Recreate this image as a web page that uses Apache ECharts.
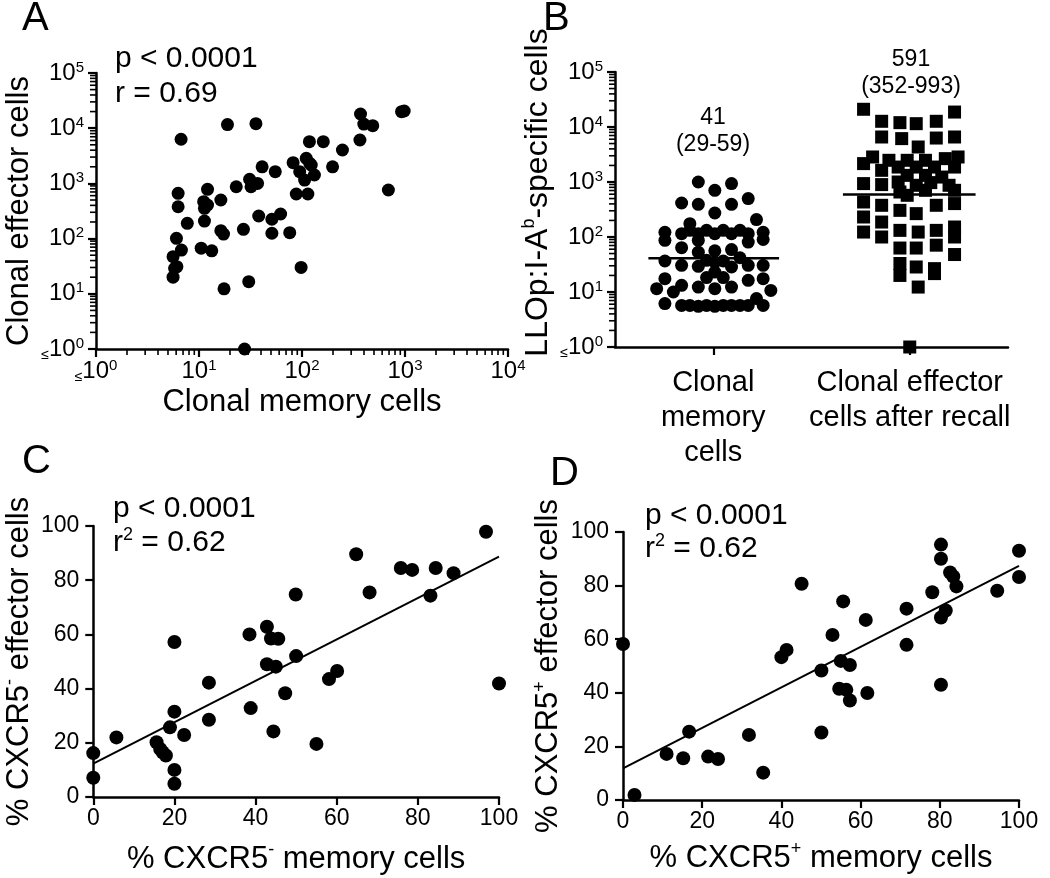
<!DOCTYPE html>
<html><head><meta charset="utf-8">
<script src="https://cdn.jsdelivr.net/npm/echarts@6/dist/echarts.min.js"></script>
<style>html,body{margin:0;padding:0;background:#fff}#c{width:1050px;height:878px}</style>
</head><body><div id="c"></div>
<script>
// ---------- Panel A ----------
const aMemory = [6.7, 18.9, 35.7, 370, 398, 486, 365, 926, 982, 118, 161, 247, 198, 82, 110, 119, 123, 95, 106, 132, 88, 114, 690, 98, 41, 55, 23, 31, 32, 37, 38, 51, 62, 51, 76, 27, 16.3, 16.3, 17.3, 12.1, 11.1, 12.1, 11.3, 11.3, 10.5, 13.3, 7.7, 6.27, 6.27, 6.04, 6.75, 5.6, 5.8, 6.1, 5.6, 17.5, 30.4, 27.7];
const aEffector = [6300, 11650, 12100, 18100, 11900, 11100, 6110, 19900, 20500, 5690, 5690, 4030, 2000, 2370, 2850, 2310, 2150, 1630, 1150, 1420, 643, 643, 760, 30, 2000, 1630, 870, 1190, 870, 1000, 257, 224, 279, 125, 128, 147, 500, 139, 121, 780, 466, 406, 354, 208, 67, 60, 189, 661, 378, 101, 62, 47, 29, 31, 20, 12.3, 16.6, 1];
const aStats = 'p < 0.0001\nr = 0.69';

// ---------- Panel B ----------
const bCategories = ['Clonal\nmemory\ncells', 'Clonal effector\ncells after recall'];
const bMemoryX = [0.424,0.593,0.508,0.339,0.424,0.593,0.678,0.508,0.720,0.381,0.254,0.339,0.381,0.424,0.466,0.508,0.551,0.593,0.636,0.678,0.754,0.254,0.424,0.678,0.754,0.339,0.424,0.508,0.593,0.254,0.339,0.424,0.466,0.508,0.551,0.593,0.636,0.678,0.754,0.254,0.508,0.466,0.551,0.678,0.754,0.212,0.297,0.339,0.424,0.508,0.593,0.793,0.254,0.339,0.381,0.424,0.466,0.508,0.551,0.593,0.636,0.678,0.720,0.754];
const bMemoryY = [1000,935,706,415,393,393,499,273,207,175,122,115,132,115,132,115,132,115,132,115,122,87,87,81,90,64,53,56,59,36.6,30.6,29.3,37.7,35,36.6,28.5,42,30.6,30.6,17.5,23,18.3,18.3,16.3,17.5,11.5,10,13.2,12.3,11.5,12.3,10.7,6.15,5.7,5.7,5.5,5.7,5.5,5.7,5.7,5.7,5.7,7.6,5.7];
const bEffectorX = [1.265,1.728,1.357,1.450,1.533,1.635,1.357,1.459,1.635,1.728,1.543,1.265,1.311,1.394,1.441,1.487,1.533,1.580,1.626,1.681,1.746,1.728,1.357,1.487,1.580,1.663,1.265,1.357,1.441,1.533,1.607,1.700,1.450,1.487,1.580,1.728,1.265,1.357,1.450,1.533,1.635,1.728,1.265,1.357,1.728,1.265,1.357,1.450,1.543,1.635,1.728,1.450,1.533,1.635,1.728,1.450,1.450,1.533,1.626,1.626,1.543,1.5];
const bEffectorY = [21000,18700,12700,12000,11500,12700,6580,6150,6300,6580,4330,2160,2850,2480,1870,2480,1870,2480,1870,2660,2850,1870,1630,1320,1320,1230,935,897,1000,871,975,871,658,573,706,706,433,377,305,266,377,405,231,187,152,123,100,132,123,132,100,63,63,71,48,33,20,28.5,26.6,21.6,12.3,1];
const bMedians = [41, 591];
const bMedianSpans = [[0.17, 0.835], [1.16, 1.835]];
const bNotes = ['41\n(29-59)', '591\n(352-993)'];

// ---------- Panel C ----------
const cMemory = [96.8,64.8,75.8,78.6,84.4,88.8,83.1,68.1,49.9,42.8,38.5,43.8,45.6,20.0,50.0,42.8,45.0,60.1,58.1,100,28.5,47.3,38.8,20.0,28.5,18.9,22.4,5.7,44.4,55.0,15.6,16.5,17.1,17.9,0,0,20,20];
const cEffector = [97.9,89.6,84.5,83.8,84.5,82.6,74.3,75.5,74.7,62.8,60.0,58.5,58.4,57.2,52.0,49.0,48.1,46.5,43.5,41.9,42.2,38.3,32.8,31.5,28.5,25.7,22.9,22.0,24.2,19.6,20.2,17.7,16.5,15.3,16.2,7.1,10.0,4.9];
const cFit = [[0, 12.3], [100, 88.7]];
const cStats = 'p < 0.0001\nr{sup|2} = 0.62';

// ---------- Panel D ----------
const dMemory = [80.3,80.3,100,100,82.6,83.4,84.2,94.5,78.1,45.1,55.6,71.6,81.5,80.3,61.3,52.9,71.6,41.3,40.0,55.0,57.3,50.1,80.3,54.6,56.4,61.7,57.3,0,16.7,31.8,50.1,11.0,15.2,21.5,24.0,35.4,2.9];
const dEffector = [95.3,90.0,93.0,83.2,84.9,83.4,79.7,78.1,77.5,80.7,74.1,71.4,70.7,68.1,67.2,61.6,57.9,56.0,53.3,51.9,50.4,48.3,43.0,41.5,41.1,39.9,37.1,58.2,25.5,24.3,25.2,17.2,15.6,16.2,15.3,10.2,1.9];
const dFit = [[0, 11.8], [100, 87.4]];
const dStats = 'p < 0.0001\nr{sup|2} = 0.62';

// ---------- axis tick settings ----------
const pctTicks = {min: 0, max: 100, interval: 20};
const logMinorSteps = [2, 3, 4, 5, 6, 7, 8, 9];
const logDecadesX = [1, 10, 100, 1000];
const logDecadesY = [1, 10, 100, 1000, 10000];
const panelLetters = ['A', 'B', 'C', 'D'];

// ---------- build ----------
const FONT = '"Liberation Sans", Arial, Helvetica, sans-serif';
const zip = (xs, ys) => xs.map((x, i) => [x, ys[i]]);
const minorVals = decs => decs.flatMap(d => logMinorSteps.map(m => m * d));

const logRich = {
  b: {fontSize: 24, lineHeight: 26, fontFamily: FONT, color: '#000', verticalAlign: 'middle'},
  sup: {fontSize: 15, lineHeight: 15, fontFamily: FONT, color: '#000', verticalAlign: 'top'},
  le: {fontSize: 14, lineHeight: 18, fontFamily: FONT, color: '#000', verticalAlign: 'bottom'}
};
const logFormatter = v => {
  const e = Math.round(Math.log10(v));
  return (e === 0 ? '{le|≤}' : '') + '{b|10}{sup|' + e + '}';
};
const nameRich = {sup: {fontSize: 18, lineHeight: 18, fontFamily: FONT, color: '#000', verticalAlign: 'top'}};

const axisLine = {show: true, onZero: false, lineStyle: {color: '#000', width: 2.5}};
const axisTick = {show: true, length: 8, lineStyle: {color: '#000', width: 2.2}};
const nameStyle = (size, pad) => ({fontSize: size, color: '#000', fontFamily: FONT, lineHeight: 36, rich: nameRich,
  padding: pad || 0});

function logAxis(grid, max, name, gap, margin, nsize, pad) {
  return {type: 'log', logBase: 10, gridIndex: grid, min: 1, max: max,
    axisLine, axisTick, splitLine: {show: false}, minorTick: {show: false},
    axisLabel: {formatter: logFormatter, rich: logRich, margin: margin, color: '#000'},
    name: name, nameLocation: 'middle', nameGap: gap, nameTextStyle: nameStyle(nsize, pad)};
}
function pctAxis(grid, name, gap, margin) {
  return Object.assign({type: 'value', gridIndex: grid, axisLine, axisTick, splitLine: {show: false},
    axisLabel: {fontSize: 23, fontFamily: FONT, color: '#000', margin: margin},
    name: name, nameLocation: 'middle', nameGap: gap, nameTextStyle: nameStyle(31)}, pctTicks);
}

const dot = (xi, yi, data, size, symbol) => ({type: 'scatter', xAxisIndex: xi, yAxisIndex: yi, data: data,
  symbol: symbol || 'circle', symbolSize: size, itemStyle: {color: '#000', opacity: 1},
  emphasis: {disabled: true}, clip: false, silent: true, z: 3});
const seg = (xi, yi, data, w) => ({type: 'line', xAxisIndex: xi, yAxisIndex: yi, data: data, symbol: 'none',
  lineStyle: {color: '#000', width: w, opacity: 1}, silent: true, z: 4});
// log-scale minor ticks, placed through the axis scale (api.coord)
const minorTicks = (xi, yi, data, dir) => ({type: 'custom', xAxisIndex: xi, yAxisIndex: yi, data: data,
  silent: true, clip: false, z: 1,
  renderItem: (params, api) => {
    const p = api.coord([api.value(0), api.value(1)]);
    const L = 6;
    const shape = dir === 'y' ? {x1: p[0] - L, y1: p[1], x2: p[0], y2: p[1]}
                              : {x1: p[0], y1: p[1], x2: p[0], y2: p[1] + L};
    return {type: 'line', shape: shape, style: {stroke: '#000', lineWidth: 1.6}};
  }});

const letterPos = [[22, -1], [543, -1], [22, 442], [550, 454]];
const statsRich = {sup: {fontSize: 18, lineHeight: 22, fontFamily: FONT, fill: '#000', verticalAlign: 'top'}};
const txt = (x, y, text, size, lh, align) => ({type: 'text', x: x, y: y, silent: true,
  style: {text: text, fontSize: size, fontFamily: FONT, fill: '#000', lineHeight: lh, align: align || 'left',
    verticalAlign: 'top', rich: statsRich}});

const option = {
  animation: false,
  backgroundColor: '#fff',
  grid: [
    {left: 90, top: 73, width: 418, height: 276},
    {left: 615, top: 72, width: 393, height: 275},
    {left: 90, top: 526, width: 409, height: 273},
    {left: 623, top: 532, width: 396, height: 268}
  ],
  xAxis: [
    logAxis(0, 10000, 'Clonal memory cells', 35, 9, 31),
    {type: 'category', gridIndex: 1, data: bCategories, boundaryGap: true, axisLine,
      axisTick: {show: true, alignWithLabel: true, length: 8, lineStyle: {color: '#000', width: 2.2}},
      axisLabel: {interval: 0, fontSize: 29, lineHeight: 35, fontFamily: FONT, color: '#000', margin: 18}},
    {type: 'value', gridIndex: 1, min: 0, max: 2, show: false, position: 'top'},
    pctAxis(2, '% CXCR5{sup|-} memory cells', 44, 10),
    pctAxis(3, '% CXCR5{sup|+} memory cells', 40, 10)
  ],
  yAxis: [
    logAxis(0, 100000, 'Clonal effector cells', 59, 12, 31),
    logAxis(1, 100000, 'LLOp:I-A{sup|b}-specific cells', 44, 12, 32, [0, 0, 0, 34]),
    pctAxis(2, '% CXCR5{sup|-} effector cells', 54, 14),
    pctAxis(3, '% CXCR5{sup|+} effector cells', 56, 14)
  ],
  series: [
    minorTicks(0, 0, minorVals(logDecadesY).map(v => [1, v]), 'y'),
    minorTicks(0, 0, minorVals(logDecadesX).map(v => [v, 1]), 'x'),
    minorTicks(2, 1, minorVals(logDecadesY).map(v => [0, v]), 'y'),
    dot(0, 0, zip(aMemory, aEffector), 13),
    dot(2, 1, zip(bMemoryX, bMemoryY), 13),
    dot(2, 1, zip(bEffectorX, bEffectorY), 13, 'rect'),
    seg(2, 1, bMedianSpans[0].map(x => [x, bMedians[0]]), 2.5),
    seg(2, 1, bMedianSpans[1].map(x => [x, bMedians[1]]), 2.5),
    dot(3, 2, zip(cMemory, cEffector), 14),
    seg(3, 2, cFit, 2),
    dot(4, 3, zip(dMemory, dEffector), 14),
    seg(4, 3, dFit, 2)
  ],
  graphic: [
    ...panelLetters.map((t, i) => txt(letterPos[i][0], letterPos[i][1], t, 40, 40)),
    txt(115, 41, aStats, 30, 35),
    txt(113, 492, cStats, 30, 34),
    txt(645, 499, dStats, 30, 33),
    txt(713, 104, bNotes[0], 23, 27, 'center'),
    txt(911, 46, bNotes[1], 23, 27, 'center')
  ]
};

const chart = echarts.init(document.getElementById('c'), null, {renderer: 'canvas'});
chart.setOption(option);
</script></body></html>
